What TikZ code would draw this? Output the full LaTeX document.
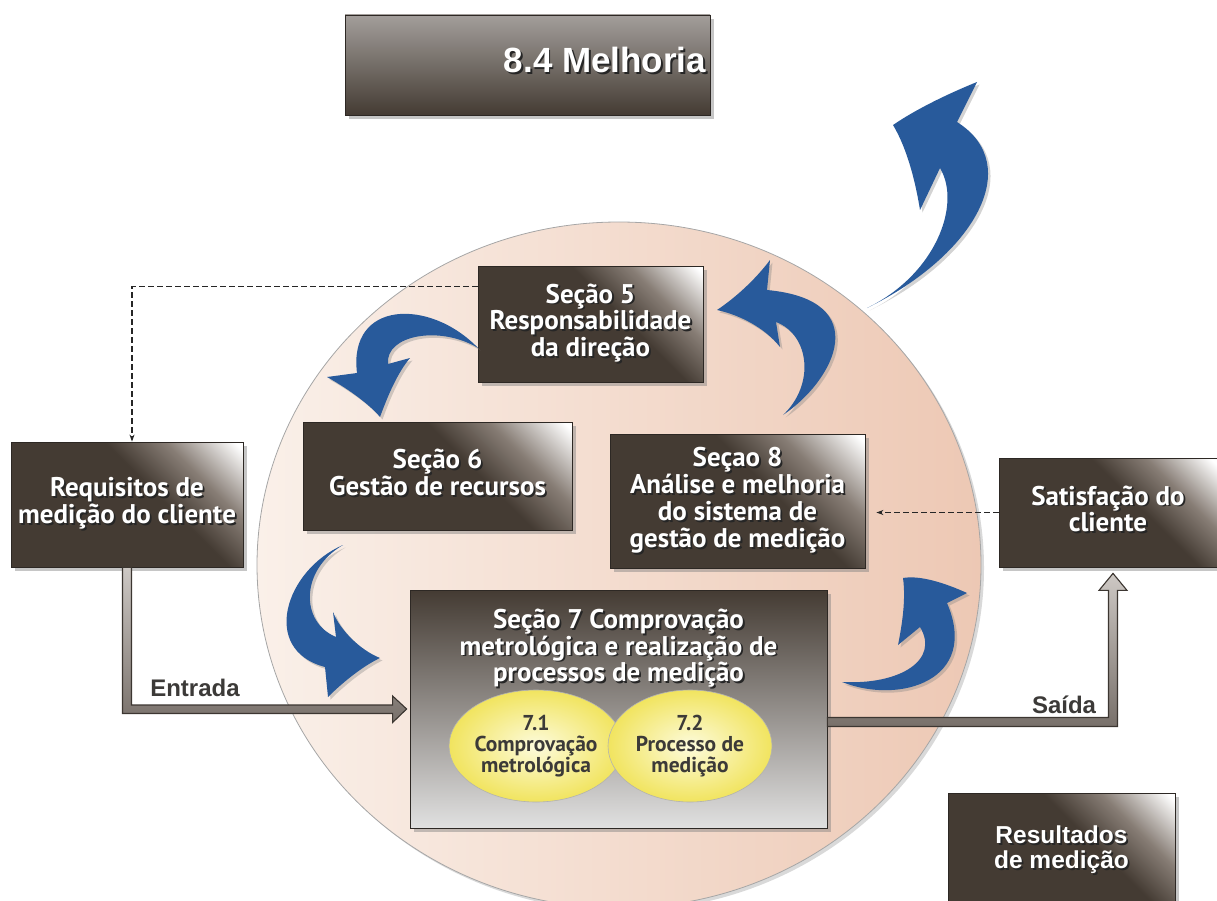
\documentclass[tikz,border=0pt]{standalone}
\usepackage{fontspec}
\setmainfont{Liberation Sans}
\newfontfamily\boxfont{PT Sans}
\usetikzlibrary{shadows,calc,shapes.geometric,arrows.meta}

\definecolor{bdark}{RGB}{68,59,51}
\definecolor{bmid}{RGB}{135,125,117}
\definecolor{bord}{RGB}{45,40,36}
\definecolor{blueA}{RGB}{40,90,155}
\definecolor{peachL}{RGB}{250,240,233}
\definecolor{peachR}{RGB}{237,200,180}
\definecolor{tubeD}{RGB}{60,54,49}
\definecolor{tubeL}{RGB}{205,200,196}
\definecolor{tubeM}{RGB}{120,112,106}
\definecolor{labelc}{RGB}{60,58,56}
\definecolor{yelI}{RGB}{253,251,220}
\definecolor{yelO}{RGB}{241,228,95}

\pgfdeclarehorizontalshading{boxsh}{100bp}{color(0bp)=(bdark); color(58bp)=(bdark); color(70bp)=(bmid); color(84bp)=(white); color(100bp)=(white)}

\newcommand\shtxt[1]{\leavevmode\rlap{\raisebox{-1.8pt}[0pt][0pt]{\hspace*{1.8pt}\textcolor{black!85}{\begin{tabular}{@{}c@{}}#1\end{tabular}}}}\textcolor{white}{\begin{tabular}{@{}c@{}}#1\end{tabular}}}

\tikzset{
  box/.style={draw=bord, line width=0.8pt, shade, shading=boxsh, shading angle=45,
    drop shadow={shadow xshift=4pt, shadow yshift=-4pt, opacity=.45},
    inner sep=0pt, font=\boxfont\bfseries\fontsize{27}{25}\selectfont},
  boxtxt/.style={inner sep=0pt, font=\boxfont\bfseries\fontsize{27}{24}\selectfont},
  ell/.style={ellipse, draw=black!30, line width=0.6pt, inner color=yelI, outer color=yelO,
    minimum width=164pt, minimum height=112pt, inner sep=0pt,
    font=\boxfont\bfseries\fontsize{21.5}{21}\selectfont, text=labelc, align=center},
  barrow/.style={fill=blueA, drop shadow={shadow xshift=2.5pt, shadow yshift=-2.5pt, opacity=.35}},
  dsh/.style={draw=black!85, line width=1.2pt, dash pattern=on 6pt off 3pt, -{Stealth[length=7pt,width=5pt]}},
  tube/.style={draw=tubeD, line width=1.1pt, top color=tubeL, bottom color=tubeM},
  lbl/.style={inner sep=0pt, text=labelc, font=\bfseries\fontsize{24}{26}\selectfont}
}

\begin{document}
\begin{tikzpicture}[x=1pt,y=-1pt]
\useasboundingbox (0,0) rectangle (1217,901);

% big circle
\path[draw=black!35, line width=0.8pt, left color=peachL, right color=peachR,
  drop shadow={shadow xshift=3pt, shadow yshift=-3pt, opacity=.3}]
  (619,565) ellipse [x radius=362pt, y radius=343pt];

% boxes
\node[box, minimum width=365pt, minimum height=100pt, top color=black!25!bmid!60!white, middle color=bmid!80!bdark, bottom color=bdark,
  font=\bfseries\fontsize{35}{40}\selectfont] (m84) at (527.5,65) {\hspace*{155pt}\shtxt{8.4 Melhoria}};
\node[box, minimum width=225pt, minimum height=116pt] (s5) at (590.5,324) {\shtxt{Seção 5\\Responsabilidade\\da direção}};
\node[box, minimum width=269pt, minimum height=108pt] (s6) at (437.5,476) {\shtxt{Seção 6\\Gestão de recursos}};
\node[box, minimum width=232pt, minimum height=125pt] (req) at (127,504.5) {\shtxt{Requisitos de\\medição do cliente}};
\node[box, minimum width=255pt, minimum height=134pt] (s8) at (737.5,501) {\shtxt{Seçao 8\\Análise e melhoria\\do sistema de\\gestão de medição}};
\node[box, minimum width=218pt, minimum height=109pt] (sat) at (1108,512.5) {\shtxt{Satisfação do\\cliente}};
\node[box, minimum width=227pt, minimum height=116pt, font=\bfseries\fontsize{24.5}{24}\selectfont] (res) at (1061.5,851) {\shtxt{Resultados\\de medição}};
\node[box, minimum width=417pt, minimum height=238pt, top color=bdark, middle color=bmid, bottom color=black!12] (s7) at (618.5,709) {};
\node[boxtxt] (s7t) at (618.5,649) {\shtxt{Seção 7 Comprovação\\metrológica e realização de\\processos de medição}};
\node[ell] (e71) at (536,746) {7.1\\Comprovação\\metrológica};
\node[ell] (e72) at (690,746) {7.2\\Processo de\\medição};

% blue curved arrows
\path[barrow] (867,308) .. controls (975,255) and (1025,165) .. (957,122) -- (977,82)
  .. controls (945,95) and (915,110) .. (893,125) .. controls (908,150) and (916,185) .. (920,210)
  -- (940,168) .. controls (962,205) and (935,275) .. (867,308) -- cycle;
\path[barrow] (783,415) .. controls (835,380) and (875,300) .. (767,290) -- (770,260)
  .. controls (755,280) and (735,298) .. (717,310) .. controls (740,315) and (765,328) .. (780,347)
  -- (776,322) .. controls (810,335) and (815,385) .. (783,415) -- cycle;
\path[barrow] (478,348) .. controls (430,298) and (348,300) .. (357,373) -- (327,377)
  .. controls (350,390) and (370,405) .. (380,417) .. controls (388,395) and (398,372) .. (410,358)
  -- (388,364) .. controls (385,335) and (440,325) .. (478,348) -- cycle;
\path[barrow] (343,545) .. controls (285,570) and (260,650) .. (325,667) -- (328,697)
  .. controls (345,680) and (365,665) .. (380,658) .. controls (360,650) and (340,630) .. (333,612)
  -- (336,637) .. controls (300,622) and (300,570) .. (343,545) -- cycle;
\path[barrow] (842,682) .. controls (900,705) and (980,680) .. (947,603) -- (967,593)
  .. controls (945,583) and (920,575) .. (903,578) .. controls (906,600) and (902,625) .. (898,645)
  -- (920,627) .. controls (940,660) and (900,685) .. (842,682) -- cycle;

% dashed connectors
\draw[dsh] ($(s5.north west)+(0,21)$) -| ($(req.north)+(5,0)$);
\draw[dsh, shorten >=11pt] (sat.west) -- (s8.east |- sat.west);

% Entrada tube
\filldraw[tube] ($(req.south)+(-4.5,0)$) |- ($(s7.west)+(-17,4.5)$) -- ++(0,9)
  -- ($(s7.west)+(-3,0)$) -- ++(-14,-13) -- ++(0,9) -| ($(req.south)+(4.5,0)$) -- cycle;
% Saida tube
\filldraw[tube] ($(s7.east)+(0,8.5)$) -| ($(sat.south)+(0.5,23)$) -- ++(-9.5,0)
  -- ($(sat.south)+(5,6)$) -- ++(14,17) -- ++(-9.5,0) |- ($(s7.east)+(0,17.5)$) -- cycle;

\node[lbl] (lin) at (195,688) {Entrada};
\node[lbl] (lout) at (1064,705) {Saída};
\end{tikzpicture}
\end{document}
